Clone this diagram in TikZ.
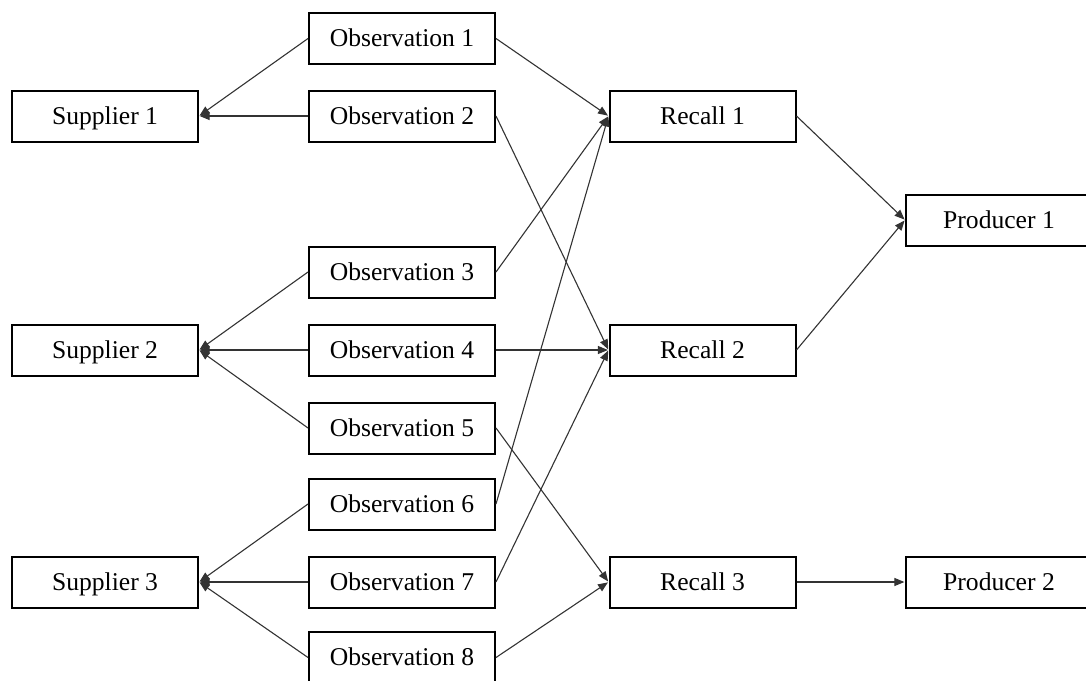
\documentclass[tikz,border=0pt]{standalone}
\usepackage{fontspec}
\setmainfont{Liberation Serif}
\usetikzlibrary{arrows.meta}
\begin{document}
\begin{tikzpicture}[x=0.5pt,y=-0.5pt,
  box/.style={draw=black,line width=1pt,minimum width=93pt,minimum height=25.5pt,inner sep=0pt,text height=9.5pt,text depth=1.1pt,font=\fontsize{12.8}{15}\selectfont,fill=white},
  conn/.style={draw=black!80,line width=0.55pt,-{Triangle[length=5pt,width=4pt]},shorten >=0.3pt}]
\useasboundingbox (0,0) rectangle (1086,680);
\begin{scope}
\clip (0,0) rectangle (1086,680);
\node[box] (s1) at (105,116) {Supplier 1};
\node[box] (s2) at (105,350) {Supplier 2};
\node[box] (s3) at (105,582) {Supplier 3};
\node[box] (o1) at (402,38.5) {Observation 1};
\node[box] (o2) at (402,116) {Observation 2};
\node[box] (o3) at (402,272) {Observation 3};
\node[box] (o4) at (402,350) {Observation 4};
\node[box] (o5) at (402,428) {Observation 5};
\node[box] (o6) at (402,504) {Observation 6};
\node[box] (o7) at (402,582) {Observation 7};
\node[box] (o8) at (402,657.5) {Observation 8};
\node[box] (r1) at (702.5,116) {Recall 1};
\node[box] (r2) at (702.5,350) {Recall 2};
\node[box] (r3) at (702.5,582) {Recall 3};
\node[box] (p1) at (999,220) {Producer 1};
\node[box] (p2) at (999,582) {Producer 2};
\end{scope}
\draw[conn] (o1.west) -- (s1.east);
\draw[conn] (o2.west) -- (s1.east);
\draw[conn] (o3.west) -- (s2.east);
\draw[conn] (o4.west) -- (s2.east);
\draw[conn] (o5.west) -- (s2.east);
\draw[conn] (o6.west) -- (s3.east);
\draw[conn] (o7.west) -- (s3.east);
\draw[conn] (o8.west) -- (s3.east);
\draw[conn] (o1.east) -- (r1.west);
\draw[conn] (o3.east) -- (r1.west);
\draw[conn] (o6.east) -- (r1.west);
\draw[conn] (o2.east) -- (r2.west);
\draw[conn] (o4.east) -- (r2.west);
\draw[conn] (o7.east) -- (r2.west);
\draw[conn] (o5.east) -- (r3.west);
\draw[conn] (o8.east) -- (r3.west);
\draw[conn] (r1.east) -- (p1.west);
\draw[conn] (r2.east) -- (p1.west);
\draw[conn] (r3.east) -- (p2.west);
\end{tikzpicture}
\end{document}
